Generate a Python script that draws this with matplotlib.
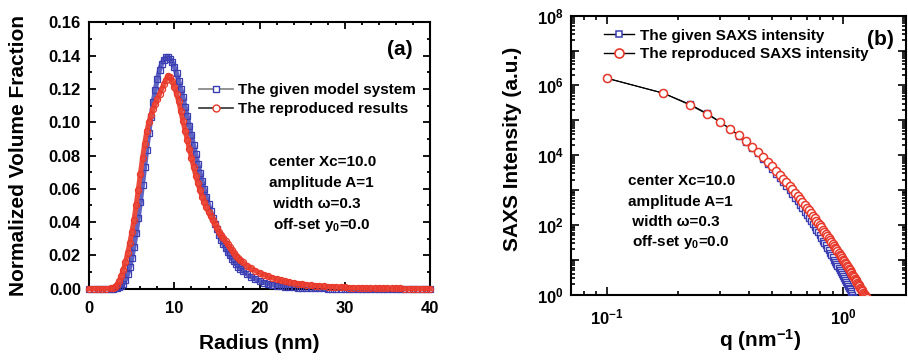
import matplotlib
matplotlib.use('Agg')
import matplotlib.pyplot as plt
from matplotlib.lines import Line2D
from matplotlib.ticker import (MultipleLocator, LogLocator, FuncFormatter,
                               NullFormatter, FixedLocator, FormatStrFormatter)
import numpy as np

plt.rcParams.update({
    'font.family': 'Liberation Sans',
    'font.weight': 'bold',
    'axes.labelweight': 'bold',
    'mathtext.fontset': 'custom',
    'mathtext.rm': 'Liberation Sans:bold',
    'mathtext.bf': 'Liberation Sans:bold',
    'mathtext.it': 'Liberation Sans:bold',
    'mathtext.default': 'bf',
})

# ---------------- data: panel (a) ----------------
radius_nm = [0, 0.5, 1, 1.5, 2, 2.5,
             2.75, 3, 3.25, 3.5, 3.75, 4, 4.25, 4.5, 4.75, 5, 5.25, 5.5, 5.75, 6,
             6.25, 6.5, 6.75, 7, 7.25, 7.5, 7.75, 8, 8.25, 8.5, 8.75, 9, 9.25, 9.5,
             9.75, 10, 10.25, 10.5, 10.75, 11, 11.25, 11.5, 11.75, 12, 12.25, 12.5,
             12.75, 13, 13.25, 13.5, 13.75, 14, 14.25, 14.5, 14.75, 15, 15.25, 15.5,
             15.75, 16, 16.25, 16.5, 16.75, 17, 17.25, 17.5, 17.75, 18,
             18.5, 19, 19.5, 20, 20.5, 21, 21.5, 22, 22.5, 23, 23.5, 24, 24.5, 25,
             25.5, 26, 26.5, 27, 27.5, 28, 28.5, 29, 29.5, 30, 30.5, 31, 31.5, 32,
             32.5, 33, 33.5, 34, 34.5, 35, 35.5, 36, 36.5, 37, 37.5, 38, 38.5, 39,
             39.5, 40]

given_vf = [0, 0, 0, 0, 0, 0.00001,
            0.00005, 0.00014, 0.00037, 0.00083, 0.00169, 0.00313, 0.00536, 0.00855,
            0.01288, 0.01844, 0.02523, 0.03320, 0.04219, 0.05201, 0.06236, 0.07296,
            0.08351, 0.09371, 0.10326, 0.11196, 0.11960, 0.12605, 0.13123, 0.13510,
            0.13764, 0.13892, 0.13899, 0.13795, 0.13591, 0.13298, 0.12930, 0.12498,
            0.12016, 0.11494, 0.10944, 0.10374, 0.09795, 0.09213, 0.08630, 0.08067,
            0.07514, 0.06979, 0.06464, 0.05973, 0.05506, 0.05064, 0.04649, 0.04259,
            0.03895, 0.03557, 0.03242, 0.02952, 0.02683, 0.02436, 0.02209, 0.02001,
            0.01811, 0.01637, 0.01478, 0.01334, 0.01203, 0.01084,
            0.00878, 0.00710, 0.00572, 0.00461, 0.00370, 0.00297, 0.00238, 0.00191,
            0.00153, 0.00123, 0.00098, 0.00078, 0.00063, 0.00050, 0.00040, 0.00032,
            0.00026, 0.00021, 0.00016, 0.00013, 0.00011, 0.00009, 0.00007, 0.00005,
            0.00004, 0.00004, 0.00003, 0.00002, 0.00002, 0.00002, 0.00001, 0.00001,
            0, 0, 0, 0, 0, 0, 0, 0, 0, 0, 0, 0]

reproduced_vf = [0, 0, 0, 0, 0.0001, 0.0002,
                 0.0005, 0.0012, 0.0025, 0.0045, 0.0075, 0.0115, 0.0160, 0.0213,
                 0.0273, 0.0340, 0.0415, 0.0500, 0.0595, 0.0690, 0.0785, 0.0870,
                 0.0945, 0.1000, 0.1045, 0.1080, 0.1110, 0.1140, 0.1168, 0.1198,
                 0.1228, 0.1255, 0.1280, 0.1270, 0.1245, 0.1210, 0.1170, 0.1125,
                 0.1065, 0.1005, 0.0950, 0.0895, 0.0840, 0.0785, 0.0730, 0.0680,
                 0.0632, 0.0590, 0.0552, 0.0518, 0.0488, 0.0460, 0.0434, 0.0410,
                 0.0387, 0.0365, 0.0343, 0.0323, 0.0304, 0.0285, 0.0266, 0.0248,
                 0.0230, 0.0213, 0.0198, 0.0184, 0.0171, 0.0159,
                 0.0139, 0.0122, 0.0108, 0.0095, 0.0084, 0.0074, 0.0065, 0.0057,
                 0.0050, 0.0044, 0.0039, 0.0034, 0.0030, 0.0027, 0.0024, 0.0021,
                 0.0019, 0.0017, 0.0015, 0.0013, 0.0012, 0.0010, 0.0009, 0.0008,
                 0.0007, 0.0006, 0.0006, 0.0005, 0.0004, 0.0004, 0.0003, 0.0003,
                 0.0003, 0.0002, 0.0002, 0.0002, 0.0002, 0.0001, 0.0001, 0.0001,
                 0.0001, 0.0001, 0.0001, 0.0001]

# ---------------- data: panel (b) ----------------
q_nm = [0.100, 0.173, 0.224, 0.265, 0.300, 0.332, 0.361, 0.387, 0.412, 0.436,
        0.458, 0.480, 0.500, 0.520, 0.539, 0.557, 0.574, 0.592, 0.608, 0.624,
        0.640, 0.656, 0.671, 0.686, 0.700, 0.714, 0.728, 0.742, 0.755, 0.768,
        0.781, 0.794, 0.806, 0.819, 0.831, 0.843, 0.854, 0.866, 0.878, 0.889,
        0.900, 0.911, 0.922, 0.933, 0.943, 0.954, 0.964, 0.975, 0.985, 0.995,
        1.005, 1.015, 1.025, 1.034, 1.044, 1.054, 1.063, 1.072, 1.082, 1.091,
        1.100, 1.109, 1.118, 1.127, 1.136, 1.145, 1.153, 1.162, 1.170, 1.179,
        1.187, 1.196, 1.204, 1.212, 1.221, 1.229, 1.237, 1.245, 1.253]

given_I = [1.60e6, 5.98e5, 2.88e5, 1.57e5, 9.14e4, 5.61e4, 3.61e4, 2.42e4, 1.64e4, 1.13e4,
           7.98e3, 5.61e3, 4.07e3, 2.98e3, 2.22e3, 1.68e3, 1.30e3, 989, 776, 605,
           472, 374, 301, 239, 193, 158, 130, 106, 88.7, 73.8,
           61.0, 50.4, 42.6, 35.7, 30.3, 25.8, 22.1, 18.9, 16.1, 13.9,
           11.9, 10.2, 8.85, 7.64, 6.70, 5.81, 5.09, 4.42, 3.88, 3.41,
           2.96, 2.60, 2.30, 2.04, 1.79, 1.58, 1.41, 1.26, 1.11, 0.99,
           0.88, 0.79]

reproduced_I = [1.60e6, 5.98e5, 2.75e5, 1.50e5, 8.93e4, 5.61e4, 3.69e4, 2.54e4, 1.76e4, 1.24e4,
                8.95e3, 6.44e3, 4.79e3, 3.58e3, 2.73e3, 2.12e3, 1.67e3, 1.30e3, 1.05e3, 845,
                682, 553, 455, 375, 313, 262, 220, 185, 158, 134,
                115, 98.2, 84.9, 72.9, 63.4, 55.1, 48.4, 42.3, 36.8, 32.5,
                28.8, 25.4, 22.5, 19.9, 17.8, 15.8, 14.2, 12.6, 11.3, 10.2,
                9.14, 8.22, 7.43, 6.76, 6.08, 5.48, 5.00, 4.56, 4.12, 3.77,
                3.43, 3.14, 2.87, 2.62, 2.40, 2.19, 2.03, 1.86, 1.72, 1.58,
                1.46, 1.34, 1.24, 1.15, 1.05, 0.98, 0.91, 0.85, 0.79]

legend_a = ['The given model system', 'The reproduced results']
legend_b = ['The given SAXS intensity', 'The reproduced SAXS intensity']
params_lines = ['center Xc=10.0', 'amplitude A=1', ' width \u03c9=0.3', ' off-set y$_{0}$=0.0']

BLUE = '#3a3eb2'
RED = '#e8382a'
BLUE_BAND = '#5f63c2'
RED_BAND = '#ea4a3c'

fig = plt.figure(figsize=(9.08, 3.6), dpi=100)
axA = fig.add_axes([0.0983, 0.198, 0.3753, 0.740])
axB = fig.add_axes([0.6285, 0.1814, 0.3698, 0.775])

# ---------------- panel (a) ----------------
axA.plot(radius_nm, given_vf, '-', color=BLUE_BAND, lw=3.6, clip_on=False, zorder=2)
axA.plot(radius_nm, given_vf, ls='none', marker='s', ms=4.2, mfc='none', mec=BLUE,
         mew=0.9, clip_on=False, zorder=3)
axA.plot(radius_nm, reproduced_vf, '-', color=RED_BAND, lw=3.6, clip_on=False, zorder=4)
axA.plot(radius_nm, reproduced_vf, ls='none', marker='o', ms=4.4, mfc='none', mec=RED,
         mew=0.9, clip_on=False, zorder=5)

axA.set_xlim(0, 40)
axA.set_ylim(0, 0.16)
axA.xaxis.set_major_locator(MultipleLocator(10))
axA.xaxis.set_minor_locator(MultipleLocator(2))
axA.yaxis.set_major_locator(MultipleLocator(0.02))
axA.yaxis.set_minor_locator(MultipleLocator(0.01))
axA.yaxis.set_major_formatter(FormatStrFormatter('%.2f'))
axA.tick_params(which='both', direction='in', top=True, right=True, width=1.3, labelsize=12)
axA.tick_params(which='major', length=5)
axA.tick_params(which='minor', length=2.5)
axA.tick_params(axis='x', pad=9)
axA.tick_params(axis='y', pad=6)
for s in axA.spines.values():
    s.set_linewidth(1.5)

axA.set_xlabel('Radius (nm)', fontsize=15)
axA.xaxis.set_label_coords(0.5, -0.17)
axA.set_ylabel('Normalized Volume Fraction', fontsize=15)
axA.yaxis.set_label_coords(-0.18, 0.5)

hA = [Line2D([], [], color='#808080', lw=1.2, marker='s', ms=4.5, mfc='white', mec=BLUE, mew=1.0),
      Line2D([], [], color='#303030', lw=1.2, marker='o', ms=5, mfc='white', mec=RED, mew=1.0)]
axA.legend(hA, legend_a, loc='upper left', bbox_to_anchor=(0.322, 0.772), frameon=False,
           fontsize=11, handlelength=2.2, handletextpad=0.35, labelspacing=0.35,
           borderpad=0, borderaxespad=0)

for txt, x, y in zip(params_lines, [0.528, 0.528, 0.528, 0.528], [0.477, 0.398, 0.318, 0.238]):
    axA.text(x, y, txt, transform=axA.transAxes, fontsize=11, ha='left', va='center')
axA.text(0.912, 0.899, '(a)', transform=axA.transAxes, fontsize=15, ha='center', va='center')

# ---------------- panel (b) ----------------
axB.set_xscale('log')
axB.set_yscale('log')
axB.plot(q_nm[:len(given_I)], given_I, '-', color='black', lw=0.8, marker='s', ms=4.8,
         mfc='white', mec=BLUE, mew=1.0, zorder=3)
axB.plot(q_nm, reproduced_I, '-', color='black', lw=0.8, marker='o', ms=5.8,
         mfc='white', mec=RED, mew=1.1, zorder=4)
axB.set_xlim(0.07, 1.85)
axB.set_ylim(1, 1e8)


def log_fmt_even(v, pos):
    e = int(round(np.log10(v)))
    if e % 2:
        return ''
    return r'$\mathdefault{10^{%d}}$' % e


def log_fmt(v, pos):
    e = int(round(np.log10(v)))
    return r'$\mathdefault{10^{%d}}$' % e


axB.yaxis.set_major_locator(LogLocator(base=10, numticks=30))
axB.yaxis.set_minor_locator(LogLocator(base=10, subs=np.arange(2, 10) * 1.0, numticks=100))
axB.yaxis.set_major_formatter(FuncFormatter(log_fmt_even))
axB.yaxis.set_minor_formatter(NullFormatter())
axB.xaxis.set_major_locator(FixedLocator([0.1, 1.0]))
axB.xaxis.set_minor_locator(FixedLocator([0.07, 0.08, 0.09, 0.2, 0.3, 0.4, 0.5, 0.6, 0.7, 0.8, 0.9]))
axB.xaxis.set_major_formatter(FuncFormatter(log_fmt))
axB.xaxis.set_minor_formatter(NullFormatter())
axB.tick_params(which='both', direction='in', top=True, right=True, width=1.2, labelsize=12)
axB.tick_params(which='major', length=5.5)
axB.tick_params(which='minor', length=3)
axB.tick_params(axis='x', pad=9)
axB.tick_params(axis='y', pad=5)
for s in axB.spines.values():
    s.set_linewidth(1.5)

axB.set_xlabel(r'q (nm$^{-1}$)', fontsize=15)
axB.xaxis.set_label_coords(0.563, -0.115)
axB.set_ylabel('SAXS Intensity (a.u.)', fontsize=15)
axB.yaxis.set_label_coords(-0.146, 0.522)

hB = [Line2D([], [], color='black', lw=1.0, marker='s', ms=5, mfc='white', mec=BLUE, mew=1.1),
      Line2D([], [], color='black', lw=1.0, marker='o', ms=6.5, mfc='white', mec=RED, mew=1.2)]
axB.legend(hB, legend_b, loc='upper left', bbox_to_anchor=(0.099, 0.953), frameon=False,
           fontsize=11, handlelength=2.0, handletextpad=0.35, labelspacing=0.3,
           borderpad=0, borderaxespad=0)

for txt, x, y in zip(params_lines, [0.1715, 0.1715, 0.1715, 0.1715],
                     [0.4075, 0.3333, 0.2616, 0.1878]):
    axB.text(x, y, txt, transform=axB.transAxes, fontsize=11, ha='left', va='center')
axB.text(0.9226, 0.915, '(b)', transform=axB.transAxes, fontsize=15, ha='center', va='center')

fig.savefig('out.png', dpi=100)
